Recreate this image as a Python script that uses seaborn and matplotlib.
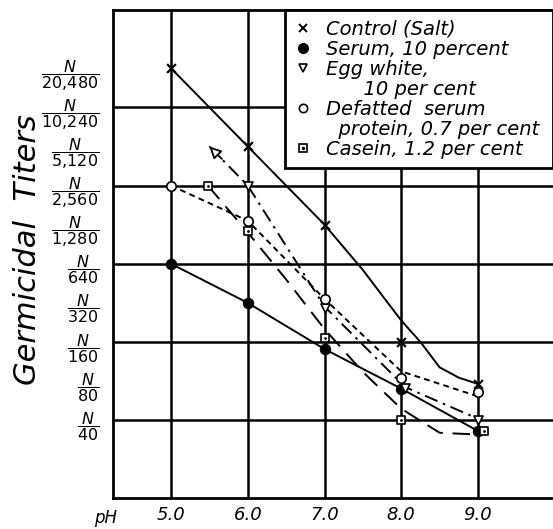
"""
Germicidal titers of salt solutions with added proteins, by pH.
"""

import numpy as np
import pandas as pd
import matplotlib
matplotlib.use("Agg")
import matplotlib.pyplot as plt
from matplotlib.lines import Line2D
import seaborn as sns

# reciprocal titers (N/x)
control_ph = [5.0, 6.0, 7.0, 8.0, 9.0]
control_titer = [20480, 5120, 1280, 160, 76]
control_curve_ph = [5.0, 6.0, 7.0, 7.5, 8.0, 8.25, 8.5, 8.75, 9.0]
control_curve_titer = [20480, 5120, 1280, 573, 234, 160, 102, 85, 76]

serum_ph = [5.0, 6.0, 7.0, 8.0, 9.0]
serum_titer = [640, 320, 141, 70, 33]

egg_ph = [6.0, 7.0, 8.05, 9.0]
egg_titer = [2560, 292, 71, 40]
egg_curve_ph = [5.5, 6.0, 7.0, 8.05, 9.0]
egg_curve_titer = [5120, 2560, 300, 72, 41]

defatted_ph = [5.0, 6.0, 7.0, 8.0, 9.0]
defatted_titer = [2560, 1372, 343, 85, 66]
defatted_curve_titer = [2560, 1372, 343, 95, 61]

casein_ph = [5.48, 6.0, 7.0, 8.0, 9.08]
casein_titer = [2560, 1140, 172, 40, 33]
casein_curve_ph = [5.48, 6.0, 6.5, 7.0, 7.5, 8.0, 8.5, 9.0]
casein_curve_titer = [2560, 1114, 485, 201, 94, 49, 32, 31]

ph_ticks = [5.0, 6.0, 7.0, 8.0, 9.0]
titer_ticks = [40, 80, 160, 320, 640, 1280, 2560, 5120, 10240, 20480]
titer_tick_text = ["40", "80", "160", "320", "640", "1,280", "2,560",
                   "5,120", "10,240", "20,480"]
titer_grid = [40, 160, 640, 2560, 10240]

legend_labels = ["Control (Salt)", "Serum, 10 percent", "Egg white,",
                 "      10 per cent", "Defatted  serum",
                 "  protein, 0.7 per cent", "Casein, 1.2 per cent"]

sns.set_style("white")
plt.rcParams["font.family"] = ["DejaVu Sans"]
plt.rcParams["mathtext.fontset"] = "dejavusans"
plt.rcParams["text.color"] = "black"
plt.rcParams["xtick.color"] = "black"
plt.rcParams["ytick.color"] = "black"

fig = plt.figure(figsize=(5.53, 5.29), dpi=100)
ax = fig.add_axes([0.2043, 0.0586, 0.7957, 0.9225])
ax.set_yscale("log", base=2)

LW = 1.4
sns.lineplot(x=control_curve_ph, y=control_curve_titer, ax=ax, color="black",
             lw=LW, linestyle="-")
sns.lineplot(x=serum_ph, y=serum_titer, ax=ax, color="black", lw=LW,
             linestyle="-")
sns.lineplot(x=egg_curve_ph, y=egg_curve_titer, ax=ax, color="black", lw=LW,
             linestyle=(0, (7, 3, 1.3, 3)))
sns.lineplot(x=defatted_ph, y=defatted_curve_titer, ax=ax, color="black",
             lw=LW, linestyle=(0, (3, 2.2)))
sns.lineplot(x=casein_curve_ph, y=casein_curve_titer, ax=ax, color="black",
             lw=LW, linestyle=(0, (9, 5)))

# open arrowhead at the start of the egg white curve
ax.annotate("", xy=(egg_curve_ph[0], egg_curve_titer[0]), xytext=(9, -9),
            textcoords="offset points",
            arrowprops=dict(arrowstyle="-|>,head_length=0.7,head_width=0.35",
                            fc="white", ec="black", lw=1.3,
                            shrinkA=0, shrinkB=0), zorder=6)

sns.scatterplot(x=control_ph, y=control_titer, ax=ax, marker="x", color="black",
                s=40, linewidth=1.6, zorder=6)
sns.scatterplot(x=serum_ph, y=serum_titer, ax=ax, marker="o", color="black",
                s=58, edgecolor="black", zorder=6)
sns.scatterplot(x=egg_ph, y=egg_titer, ax=ax, marker="v", facecolor="white",
                edgecolor="black", s=42, linewidth=1.2, zorder=6)
sns.scatterplot(x=defatted_ph, y=defatted_titer, ax=ax, marker="o",
                facecolor="white", edgecolor="black", s=46, linewidth=1.2,
                zorder=6)
sns.scatterplot(x=casein_ph, y=casein_titer, ax=ax, marker="s",
                facecolor="white", edgecolor="black", s=38, linewidth=1.2,
                zorder=6)
sns.scatterplot(x=casein_ph, y=casein_titer, ax=ax, marker="o", color="black",
                s=4, linewidth=0, zorder=7)

ax.set_xlim(4.244, 9.977)
ax.set_ylim(40 * 2 ** -1.99, 40 * 2 ** 10.49)

for t in titer_grid:
    ax.axhline(t, color="black", lw=1.8, zorder=1)
for p in ph_ticks:
    ax.axvline(p, color="black", lw=1.8, zorder=1)

ax.set_xticks(ph_ticks)
ax.set_xticklabels([f"{p:.1f}" for p in ph_ticks], fontsize=13, style="italic")
ax.set_yticks(titer_ticks)
ax.set_yticklabels([r"$\dfrac{\mathit{N}}{\mathit{%s}}$" % s.replace(",", r",\!")
                    for s in titer_tick_text], fontsize=11.5)
ax.minorticks_off()
ax.tick_params(axis="both", length=0)
ax.tick_params(axis="x", pad=6)
ax.tick_params(axis="y", pad=10)
ax.set_xlabel("")
ax.set_ylabel("")

for side in ["left", "top", "bottom"]:
    ax.spines[side].set_linewidth(2)
    ax.spines[side].set_color("black")
ax.spines["right"].set_visible(False)

fig.text(106 / 553, 1 - 518 / 529, "pH", ha="center", va="center",
         fontsize=12, style="italic")
fig.text(28 / 553, 1 - 250 / 529, "Germicidal  Titers", ha="center",
         va="center", rotation=90, fontsize=22, style="italic")

handles = [
    Line2D([], [], ls="none", marker="x", color="black", ms=6, mew=1.4),
    Line2D([], [], ls="none", marker="o", color="black", ms=7),
    Line2D([], [], ls="none", marker="v", mfc="white", mec="black", ms=6,
           mew=1.2),
    Line2D([], [], ls="none"),
    Line2D([], [], ls="none", marker="o", mfc="white", mec="black", ms=6,
           mew=1.2),
    Line2D([], [], ls="none"),
    (Line2D([], [], ls="none", marker="s", mfc="white", mec="black", ms=6,
            mew=1.2),
     Line2D([], [], ls="none", marker="o", color="black", ms=1.5)),
]
# legend box spans from pH 7.5 to the right edge
leg = ax.legend(handles, legend_labels, loc="upper left",
                bbox_to_anchor=(0.391, 0.0, 0.609, 1.0), mode="expand",
                borderaxespad=0, fancybox=False, framealpha=1,
                edgecolor="black", handlelength=0.8, handletextpad=0.8,
                labelspacing=0.05, borderpad=0.5,
                prop=dict(size=14, style="italic"))
leg.get_frame().set_linewidth(2)
leg.set_zorder(10)

fig.savefig("out.png", dpi=100)
